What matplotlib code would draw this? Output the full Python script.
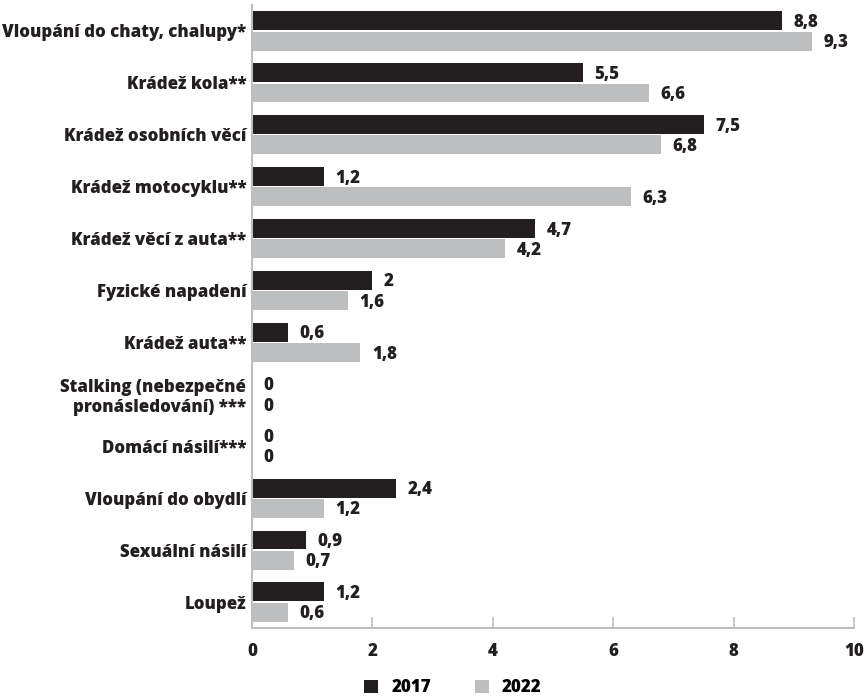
import matplotlib
matplotlib.use("Agg")
import matplotlib.pyplot as plt
import numpy as np
from matplotlib.patches import Patch

categories = [
    "Vloupání do chaty, chalupy*",
    "Krádež kola**",
    "Krádež osobních věcí",
    "Krádež motocyklu**",
    "Krádež věcí z auta**",
    "Fyzické napadení",
    "Krádež auta**",
    "Stalking (nebezpečné\npronásledování) ***",
    "Domácí násilí***",
    "Vloupání do obydlí",
    "Sexuální násilí",
    "Loupež",
]
values_2017 = [8.8, 5.5, 7.5, 1.2, 4.7, 2.0, 0.6, 0, 0, 2.4, 0.9, 1.2]
values_2022 = [9.3, 6.6, 6.8, 6.3, 4.2, 1.6, 1.8, 0, 0, 1.2, 0.7, 0.6]
series_names = ["2017", "2022"]
xticks = [0, 2, 4, 6, 8, 10]

DARK = "#231f20"
GRAY = "#bcbec0"
plt.rcParams['font.family'] = ['Open Sans', 'DejaVu Sans']
FS = 12.2
W = 800

fig = plt.figure(figsize=(8.66, 6.98), dpi=100)
ax = fig.add_axes([0.291, 0.1003, 0.6952, 0.8925])

y = np.arange(len(categories))
h = 0.365
off = 0.195

def fmt(v):
    s = f"{v:.1f}".replace(".", ",")
    if s.endswith(",0"):
        s = s[:-2]
    return s

ax.barh(y - off, values_2017, height=h, color=DARK)
ax.barh(y + off, values_2022, height=h, color=GRAY)
for yi, v in zip(y, values_2017):
    ax.text(v + 0.19, yi - off + 0.03, fmt(v), va='center', ha='left',
            fontsize=FS, fontweight=W, color=DARK)
for yi, v in zip(y, values_2022):
    ax.text(v + 0.19, yi + off + 0.03, fmt(v), va='center', ha='left',
            fontsize=FS, fontweight=W, color=DARK)

ax.set_ylim(len(categories) - 0.5, -0.5)
ax.set_xlim(0, 10)
ax.set_yticks(y)
ax.set_yticklabels(categories, fontsize=FS, fontweight=W, color=DARK,
                   linespacing=1.2)
ax.set_xticks(xticks)
ax.set_xticklabels([str(t) for t in xticks], fontsize=FS, fontweight=W, color=DARK)
ax.tick_params(axis='y', length=0, pad=4)
ax.tick_params(axis='x', direction='in', length=8, width=1.2, color=GRAY, pad=11)
for s in ['top', 'right']:
    ax.spines[s].set_visible(False)
for s in ['left', 'bottom']:
    ax.spines[s].set_color(GRAY)
    ax.spines[s].set_linewidth(1.5)

handles = [Patch(facecolor=DARK), Patch(facecolor=GRAY)]
fig.legend(handles, series_names, loc='lower center', bbox_to_anchor=(0.523, -0.019),
           ncol=2, frameon=False, handlelength=0.8, handleheight=0.8,
           columnspacing=2.6, handletextpad=0.8,
           prop={'weight': W, 'size': FS, 'family': ['Open Sans', 'DejaVu Sans']})

fig.savefig("out.png", dpi=100)
